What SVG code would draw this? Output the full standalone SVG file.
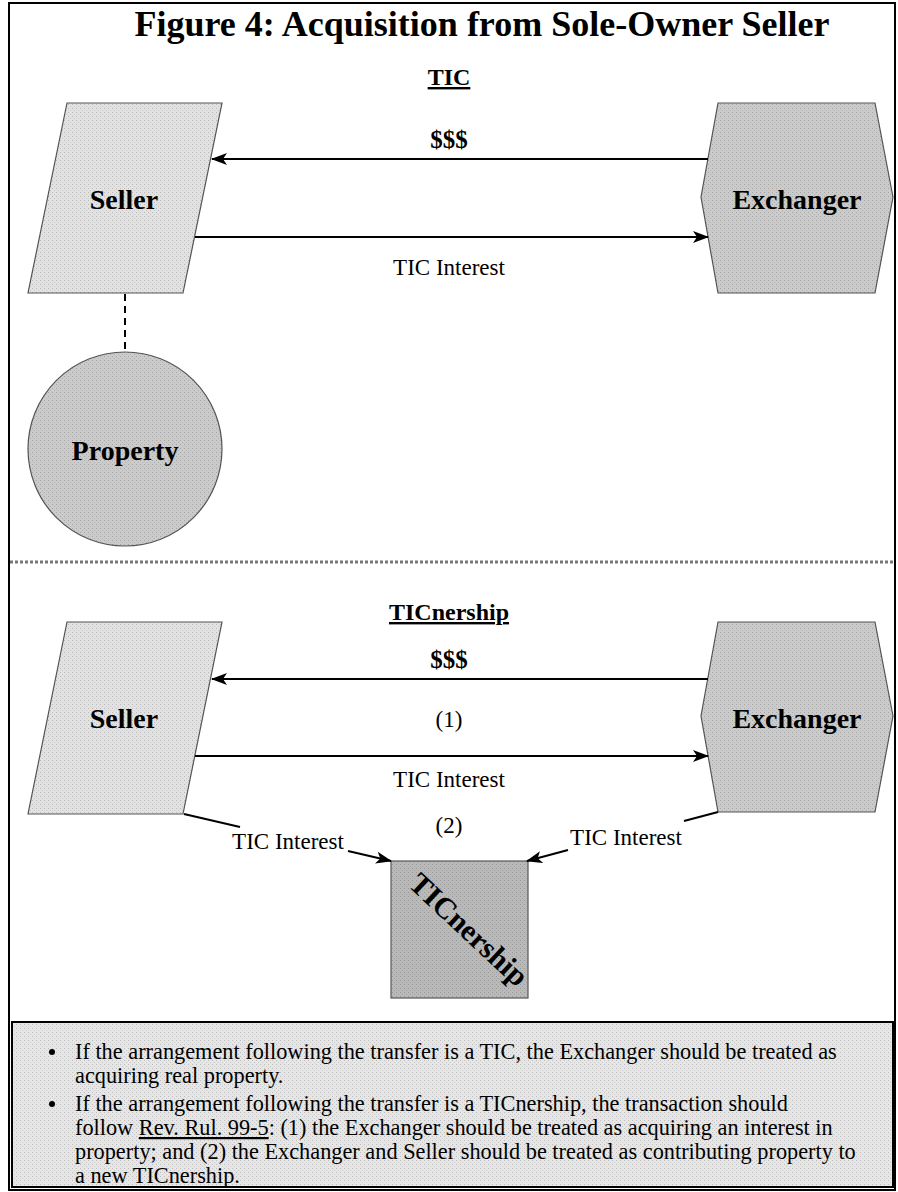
<svg xmlns="http://www.w3.org/2000/svg" width="898" height="1192" viewBox="0 0 898 1192">
<defs>
<marker id="ah" viewBox="0 0 16 12" markerWidth="16" markerHeight="12" refX="15" refY="6" orient="auto" markerUnits="userSpaceOnUse">
<path d="M0,0 L16,6 L0,12 L4,6 Z" fill="#000"/>
</marker>
<pattern id="stip" width="4" height="4" patternUnits="userSpaceOnUse">
<rect width="4" height="4" fill="none"/>
<rect x="0" y="0" width="1" height="1" fill="#000" fill-opacity="0.18"/>
<rect x="2" y="2" width="1" height="1" fill="#000" fill-opacity="0.12"/>
</pattern>
</defs>
<style>
.t{font-family:"Liberation Serif","Times New Roman",serif;fill:#000}
.b{font-weight:bold}
.nl{font-size:28px;font-weight:bold}
.lbl{font-size:23px}
.conn{stroke:#000;stroke-width:2;fill:none}
.shape{stroke:#555;stroke-width:1.2}
</style>
<rect width="898" height="1192" fill="#fff"/>
<rect x="9" y="3" width="886" height="1187" fill="none" stroke="#000" stroke-width="2"/>
<text class="t b" x="482" y="36" font-size="36" text-anchor="middle">Figure 4: Acquisition from Sole-Owner Seller</text>
<text class="t b" x="449" y="85" font-size="24" text-anchor="middle" text-decoration="underline">TIC</text>
<line x1="10" y1="562" x2="895" y2="562" stroke="#777" stroke-width="3" stroke-dasharray="3 2"/>
<text class="t b" x="449" y="620" font-size="24" text-anchor="middle" text-decoration="underline">TICnership</text>

<g id="seller-top">
<polygon class="shape" points="67,103 222,103 183,293 28,293" fill="#e2e2e2"/>
<polygon points="67,103 222,103 183,293 28,293" fill="url(#stip)"/>
<text class="t nl" x="124" y="209" text-anchor="middle">Seller</text>
</g>
<g id="exchanger-top">
<polygon class="shape" points="718,103 875,103 893,197 875,293 718,293 701,197" fill="#cbcbcb"/>
<polygon points="718,103 875,103 893,197 875,293 718,293 701,197" fill="url(#stip)"/>
<text class="t nl" x="797" y="209" text-anchor="middle">Exchanger</text>
</g>
<g id="property">
<circle class="shape" cx="125" cy="449" r="97" fill="#cbcbcb"/>
<circle cx="125" cy="449" r="97" fill="url(#stip)"/>
<text class="t nl" x="125" y="460" text-anchor="middle">Property</text>
</g>
<g id="seller-bottom">
<polygon class="shape" points="67,622 222,622 183,814 28,814" fill="#e2e2e2"/>
<polygon points="67,622 222,622 183,814 28,814" fill="url(#stip)"/>
<text class="t nl" x="124" y="728" text-anchor="middle">Seller</text>
</g>
<g id="exchanger-bottom">
<polygon class="shape" points="718,622 875,622 893,716 875,812 718,812 701,716" fill="#cbcbcb"/>
<polygon points="718,622 875,622 893,716 875,812 718,812 701,716" fill="url(#stip)"/>
<text class="t nl" x="797" y="728" text-anchor="middle">Exchanger</text>
</g>
<g id="ticnership">
<rect class="shape" x="391" y="861" width="137" height="137" fill="#b9b9b9"/>
<rect x="391" y="861" width="137" height="137" fill="url(#stip)"/>
<text class="t b" x="0" y="0" font-size="30" text-anchor="middle" transform="translate(462,937) rotate(43)">TICnership</text>
</g>

<g id="connectors">
<line class="conn" x1="708" y1="159" x2="212" y2="159" marker-end="url(#ah)"/>
<line class="conn" x1="195" y1="237" x2="708" y2="237" marker-end="url(#ah)"/>
<line class="conn" x1="125" y1="294" x2="125" y2="352" stroke-dasharray="7 5"/>
<line class="conn" x1="708" y1="679" x2="212" y2="679" marker-end="url(#ah)"/>
<line class="conn" x1="195" y1="756" x2="708" y2="756" marker-end="url(#ah)"/>
<line class="conn" x1="184" y1="814" x2="240" y2="827"/>
<line class="conn" x1="348" y1="851" x2="391" y2="861" marker-end="url(#ah)"/>
<line class="conn" x1="718" y1="812" x2="684" y2="821"/>
<line class="conn" x1="568" y1="850" x2="527" y2="861" marker-end="url(#ah)"/>
</g>

<g id="labels">
<text class="t b" x="449" y="148" font-size="25" text-anchor="middle">$$$</text>
<text class="t lbl" x="449" y="275" text-anchor="middle">TIC Interest</text>
<text class="t b" x="449" y="668" font-size="25" text-anchor="middle">$$$</text>
<text class="t lbl" x="449" y="727" text-anchor="middle">(1)</text>
<text class="t lbl" x="449" y="787" text-anchor="middle">TIC Interest</text>
<text class="t lbl" x="449" y="833" text-anchor="middle">(2)</text>
<text class="t lbl" x="288" y="849" text-anchor="middle">TIC Interest</text>
<text class="t lbl" x="626" y="845" text-anchor="middle">TIC Interest</text>
</g>

<g id="notes">
<rect x="12" y="1022" width="881" height="165" fill="#e6e6e6" stroke="#000" stroke-width="2"/>
<rect x="13" y="1023" width="879" height="163" fill="url(#stip)"/>
<g class="t" font-size="22.3">
<circle cx="52" cy="1052" r="3" fill="#000"/>
<text x="75" y="1059">If the arrangement following the transfer is a TIC, the Exchanger should be treated as</text>
<text x="75" y="1083">acquiring real property.</text>
<circle cx="52" cy="1104" r="3" fill="#000"/>
<text x="75" y="1111">If the arrangement following the transfer is a TICnership, the transaction should</text>
<text x="75" y="1135">follow <tspan text-decoration="underline">Rev. Rul. 99-5</tspan>: (1) the Exchanger should be treated as acquiring an interest in</text>
<text x="75" y="1159">property; and (2) the Exchanger and Seller should be treated as contributing property to</text>
<text x="75" y="1183">a new TICnership.</text>
</g>
</g>
</svg>
